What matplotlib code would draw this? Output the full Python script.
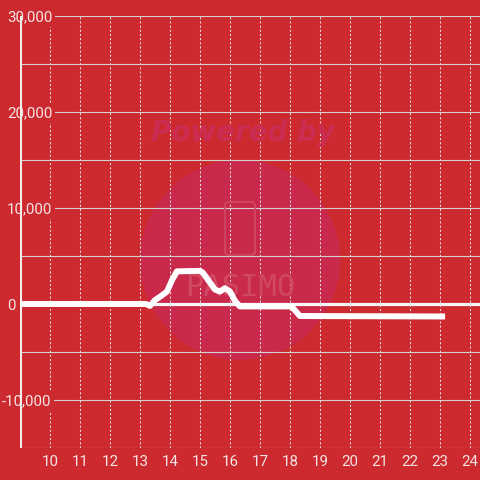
#!/usr/bin/env python3

# ========================================================================
#
# Imports
#
# ========================================================================
import numpy as np
import matplotlib as mpl
mpl.use('Agg')
import matplotlib.pyplot as plt
from matplotlib.patches import Circle, FancyBboxPatch
import matplotlib.transforms as mtransforms

# ========================================================================
#
# Data
#
# ========================================================================
hours = [9.0, 13.2, 13.33, 13.5, 13.73, 13.9, 14.07, 14.23, 15.0, 15.1,
         15.27, 15.5, 15.67, 15.83, 16.0, 16.17, 16.33, 18.05, 18.33, 23.17]
values = [0, 0, -200, 400, 900, 1300, 2500, 3400, 3450, 3250,
          2500, 1500, 1300, 1650, 1300, 300, -250, -250, -1250, -1300]

xticks = list(range(10, 25))
yticks = [-10000, 0, 10000, 20000, 30000]
yticklabels = ['-10,000', '0', '10,000', '20,000', '30,000']
yminor = [-15000, -5000, 5000, 15000, 25000]

# ========================================================================
#
# Style
#
# ========================================================================
bg = '#cc2a2f'
fg = '#f4e4e4'
plt.rcParams['font.family'] = ['Roboto', 'DejaVu Sans']

fig = plt.figure(figsize=(4.8, 4.8), dpi=100, facecolor=bg)
ax = fig.add_axes([20 / 480, 32 / 480, 460 / 480, 432 / 480])
ax.set_facecolor(bg)

# watermark, kept under the grid and the data
ax.add_patch(Circle((0.5, 1 - 260 / 480), 100 / 480, transform=fig.transFigure,
                    facecolor='#c9294a', edgecolor='none', zorder=0.5,
                    clip_on=False))
ax.add_patch(FancyBboxPatch((225 / 480, 1 - 255 / 480), 30 / 480, 53 / 480,
                            boxstyle='round,pad=0,rounding_size=0.008',
                            transform=fig.transFigure, facecolor='none',
                            edgecolor='#d24a64', lw=1.2, zorder=0.6,
                            clip_on=False))
ax.text(243 / 480, 1 - 133 / 480, 'Powered by', ha='center', va='center',
        fontsize=20, fontweight='bold', style='italic', color='#cb2d52',
        family='DejaVu Sans', transform=fig.transFigure, zorder=0.6)
ax.text(240 / 480, 1 - 288 / 480, 'PASIMO', ha='center', va='center',
        fontsize=22, color='#d04862', family='DejaVu Sans Mono',
        transform=fig.transFigure, zorder=0.6)

# ========================================================================
#
# Plot
#
# ========================================================================
ax.axhline(0, color='#f7f7f7', lw=2.3, zorder=2)
ax.plot(hours, values, color='white', lw=4.3, solid_joinstyle='round',
        solid_capstyle='butt', zorder=3)

# left axis line drawn under the tick labels
ax.axvline(9.0, color='#f2eeee', lw=2.2, zorder=1.2)

ax.set_xlim(9.0, 9.0 + 460 / 30)
ax.set_ylim(-15000, 30000)

ax.set_xticks(xticks)
ax.set_yticks(yticks)
ax.set_yticklabels(yticklabels)
ax.set_yticks(yminor, minor=True)

ax.grid(axis='x', which='major', color='#e8dcdc', lw=0.75, ls=(0, (2, 2)))
ax.grid(axis='y', which='both', color='#d6d0d0', lw=0.8, ls='-')
ax.set_axisbelow(True)

for s in ax.spines.values():
    s.set_visible(False)

ax.tick_params(axis='x', length=0, pad=5, labelsize=10.8, labelcolor=fg)
ax.tick_params(axis='y', which='both', length=0, pad=9.4, labelsize=10.8,
               labelcolor=fg)

for t in ax.get_yticklabels():
    t.set_ha('left')
    t.set_bbox(dict(facecolor=bg, edgecolor='none', pad=1.6))
    if t.get_text().startswith('-'):
        t.set_transform(t.get_transform() + mtransforms.ScaledTranslation(
            -5 / 100, 0, fig.dpi_scale_trans))

fig.savefig('out.png', dpi=100, facecolor=bg)
